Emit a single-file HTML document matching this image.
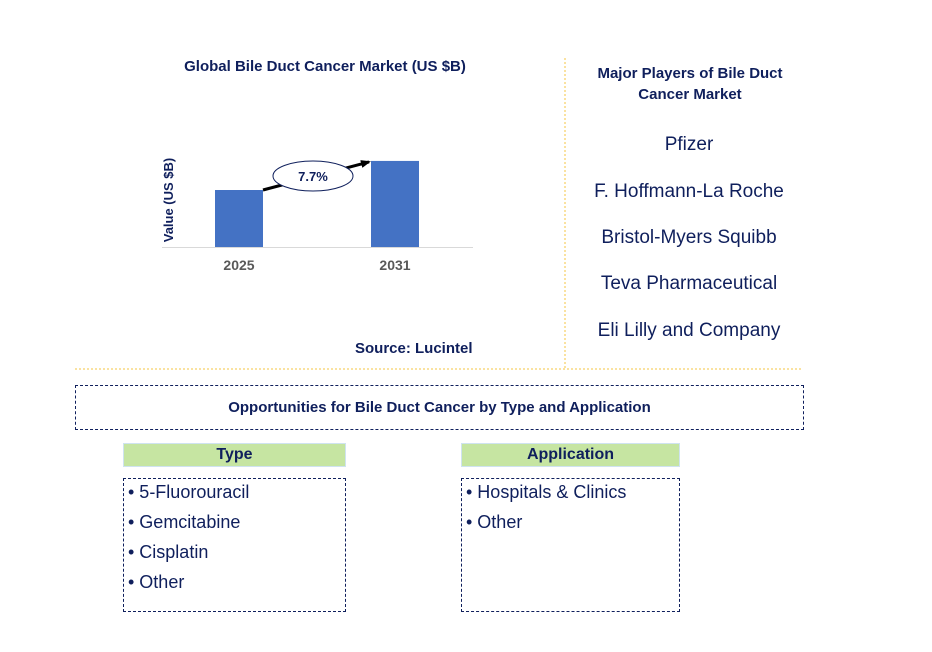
<!DOCTYPE html>
<html><head><meta charset="utf-8"><style>
body{margin:0;width:932px;height:652px;background:#fff;font-family:"Liberation Sans",Arial,sans-serif;position:relative;overflow:hidden}
.a{position:absolute}
.navy{color:#0f1f5c}
.box{border:1px dashed #0f1f5c;box-sizing:border-box}
.hdr{background:#c6e5a2;border:1px solid #cfe3f0;box-sizing:border-box;text-align:center;font-weight:bold;font-size:16px;color:#0f1f5c;line-height:22px}
.li{font-size:18px;color:#0f1f5c;line-height:30px}
.pl{width:250px;text-align:center;font-size:19px;color:#0f1f5c}
</style></head><body>
<div class="a navy" style="left:150px;top:58px;width:350px;text-align:center;font-weight:bold;font-size:15px">Global Bile Duct Cancer Market (US $B)</div>
<svg class="a" style="left:0;top:0" width="932" height="652">
<text x="173" y="200" transform="rotate(-90 173 200)" text-anchor="middle" font-size="13" font-weight="bold" fill="#0f1f5c" font-family="Liberation Sans">Value (US $B)</text>
<g id="bars"></g>
<line x1="162" y1="247.5" x2="473" y2="247.5" stroke="#d9d9d9"/>
<defs><marker id="ah" markerUnits="userSpaceOnUse" markerWidth="10" markerHeight="10" refX="8" refY="5" orient="auto"><path d="M0,1L10,5L0,9z" fill="#000"/></marker></defs>
<line id="arrow" stroke="#000" stroke-width="3" marker-end="url(#ah)"/>
<ellipse cx="313" cy="176" rx="40" ry="15" fill="#fff" stroke="#0f1f5c"/>
<text x="313" y="181" text-anchor="middle" font-size="13" font-weight="bold" fill="#0f1f5c" font-family="Liberation Sans">7.7%</text>
<line x1="565" y1="58" x2="565" y2="368" stroke="#f5c542" stroke-dasharray="2,2"/>
<line x1="75" y1="369" x2="803" y2="369" stroke="#f5c542" stroke-dasharray="2,2"/>
</svg>
<script>
const categories=["2025","2031"];
const values=[1.0,1.51];
const x0=239,step=156,bw=48,base=247,ppu=57;
const xS=i=>x0+i*step, yS=v=>base-v*ppu;
const g=document.getElementById('bars'),ns="http://www.w3.org/2000/svg";
categories.forEach((c,i)=>{
 const r=document.createElementNS(ns,'rect');
 r.setAttribute('x',xS(i)-bw/2);r.setAttribute('y',yS(values[i]));r.setAttribute('width',bw);r.setAttribute('height',base-yS(values[i]));r.setAttribute('fill','#4472c4');
 
 
 g.appendChild(r);
 const t=document.createElementNS(ns,'text');
 t.setAttribute('x',xS(i));t.setAttribute('y',270);t.setAttribute('text-anchor','middle');t.setAttribute('font-size','14');t.setAttribute('font-weight','bold');t.setAttribute('fill','#595959');t.setAttribute('font-family','Liberation Sans');
 t.textContent=c;
 
 
 g.appendChild(t);
});
const a=document.getElementById('arrow');
a.setAttribute('x1',xS(0)+bw/2);a.setAttribute('y1',yS(values[0]));a.setAttribute('x2',xS(1)-bw/2-2);a.setAttribute('y2',yS(values[1])+1);
</script>
<div class="a navy" style="left:355px;top:340px;font-weight:bold;font-size:15px">Source: Lucintel</div>
<div class="a navy" style="left:565px;top:63px;width:250px;text-align:center;font-weight:bold;font-size:15px;line-height:21px">Major Players of Bile Duct<br>Cancer Market</div>
<div class="a pl" style="left:564px;top:134px">Pfizer</div>
<div class="a pl" style="left:564px;top:181px">F. Hoffmann-La Roche</div>
<div class="a pl" style="left:564px;top:227px">Bristol-Myers Squibb</div>
<div class="a pl" style="left:564px;top:273px">Teva Pharmaceutical</div>
<div class="a pl" style="left:564px;top:320px">Eli Lilly and Company</div>
<div class="a box navy" style="left:75px;top:385px;width:729px;height:45px;text-align:center;font-weight:bold;font-size:15px;line-height:43px">Opportunities for Bile Duct Cancer by Type and Application</div>
<div class="a hdr" style="left:123px;top:443px;width:223px;height:24px">Type</div>
<div class="a box" style="left:123px;top:478px;width:223px;height:134px;padding:0 4px">
<div class="li" style="margin-top:-2px">• 5-Fluorouracil</div><div class="li">• Gemcitabine</div><div class="li">• Cisplatin</div><div class="li">• Other</div></div>
<div class="a hdr" style="left:461px;top:443px;width:219px;height:24px">Application</div>
<div class="a box" style="left:461px;top:478px;width:219px;height:134px;padding:0 4px">
<div class="li" style="margin-top:-2px">• Hospitals &amp; Clinics</div><div class="li">• Other</div></div>
</body></html>
